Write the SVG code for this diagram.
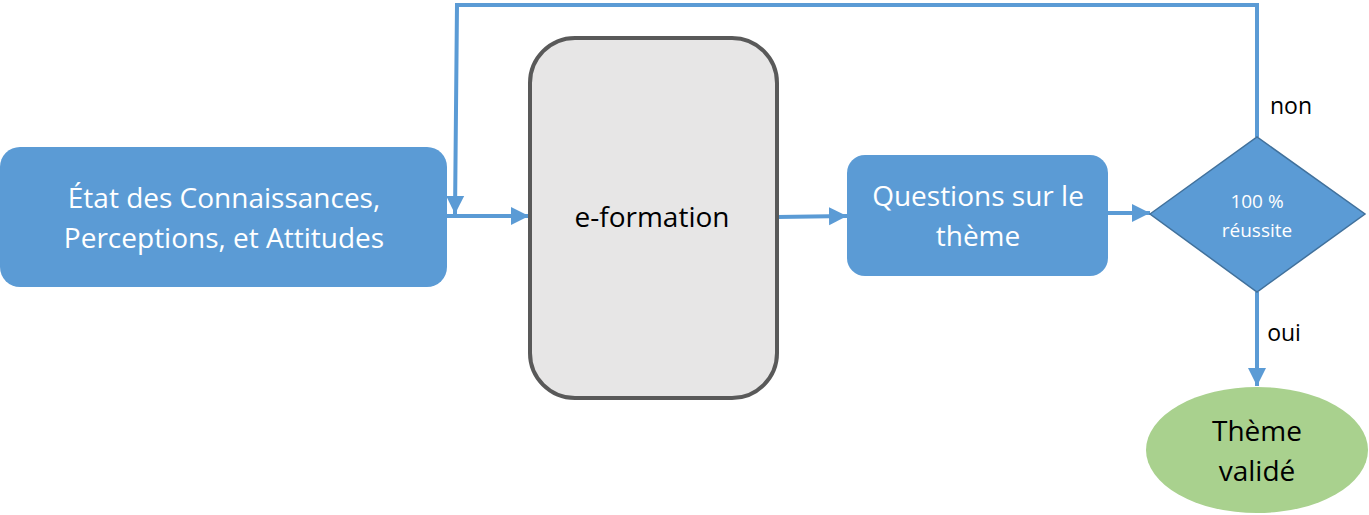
<svg xmlns="http://www.w3.org/2000/svg" width="1369" height="515" viewBox="0 0 1369 515">
<style>
.box{fill:#5B9BD5}
.wt{fill:#FFFFFF;font-family:"Open Sans","Noto Sans",sans-serif;text-anchor:middle}
.bt{fill:#000000;font-family:"Open Sans","Noto Sans",sans-serif;text-anchor:middle}
.con{stroke:#5B9BD5;stroke-width:4;fill:none}
</style>
<defs>
<marker id="ah" markerUnits="userSpaceOnUse" markerWidth="20" markerHeight="20" refX="18" refY="10" orient="auto">
<path d="M0,1 L18,10 L0,19 Z" fill="#5B9BD5"/>
</marker>
</defs>
<g id="connectors">
<line class="con" x1="447" y1="216" x2="529" y2="216" marker-end="url(#ah)"/>
<line class="con" x1="777" y1="217" x2="847" y2="216" marker-end="url(#ah)"/>
<line class="con" x1="1108" y1="213" x2="1150" y2="213" marker-end="url(#ah)"/>
<polyline class="con" points="1257,137 1257,5 457,5 455,214" marker-end="url(#ah)"/>
<line class="con" x1="1257" y1="292" x2="1257" y2="386" marker-end="url(#ah)"/>
<text class="bt" x="1291" y="114" font-size="23">non</text>
<text class="bt" x="1284" y="341" font-size="23">oui</text>
</g>
<g id="etat">
<rect class="box" x="0" y="147" width="447" height="140" rx="20"/>
<text class="wt" x="224" y="208" font-size="28">État des Connaissances,</text>
<text class="wt" x="224" y="248" font-size="28">Perceptions, et Attitudes</text>
</g>
<g id="eformation">
<rect x="530" y="38" width="247" height="360" rx="45" fill="#E7E6E6" stroke="#595959" stroke-width="4"/>
<text class="bt" x="652" y="227" font-size="28">e-formation</text>
</g>
<g id="questions">
<rect class="box" x="847" y="155" width="261" height="121" rx="18"/>
<text class="wt" x="978" y="206" font-size="28">Questions sur le</text>
<text class="wt" x="978" y="246" font-size="28">thème</text>
</g>
<g id="decision">
<polygon points="1150,214 1257,137 1365,214 1257,292" fill="#5B9BD5" stroke="#41719C" stroke-width="1.5"/>
<text class="wt" x="1257" y="208" font-size="19">100 %</text>
<text class="wt" x="1257" y="237" font-size="19">réussite</text>
</g>
<g id="valide">
<ellipse cx="1257" cy="450" rx="111" ry="63" fill="#A9D18E"/>
<text class="bt" x="1257" y="441" font-size="28">Thème</text>
<text class="bt" x="1257" y="481" font-size="28">validé</text>
</g>
</svg>
